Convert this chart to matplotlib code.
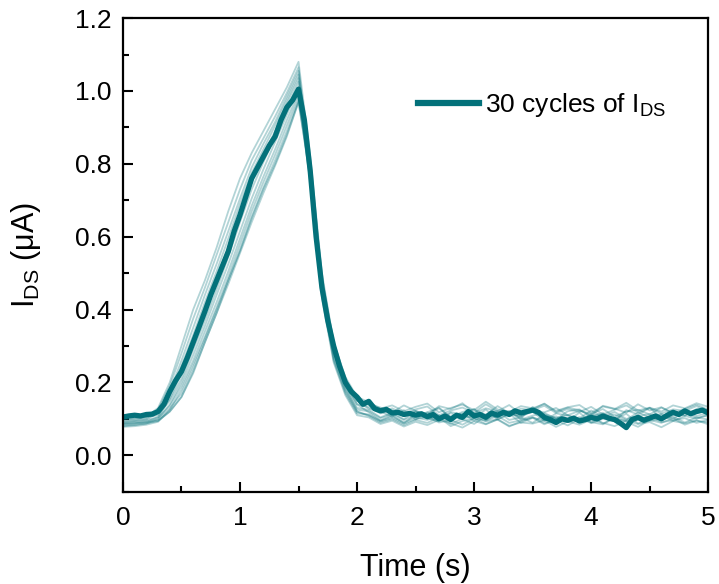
import matplotlib
matplotlib.use('Agg')
import matplotlib.pyplot as plt
import numpy as np

plt.rcParams['font.family'] = ['Liberation Sans', 'DejaVu Sans']
plt.rcParams['mathtext.fontset'] = 'custom'
plt.rcParams['mathtext.rm'] = 'Liberation Sans'
plt.rcParams['mathtext.it'] = 'Liberation Sans'

# thick curve (highlighted cycle), every 0.05 s
t_main = np.linspace(0, 5, 101)
main_rise = [0.105, 0.108, 0.110, 0.108, 0.112,
             0.113, 0.120, 0.140, 0.175, 0.205,
             0.230, 0.268, 0.310, 0.352, 0.395,
             0.440, 0.480, 0.520, 0.560, 0.615,
             0.660, 0.710, 0.760, 0.790, 0.820,
             0.850, 0.875, 0.920, 0.955, 0.975,
             1.005, 0.920, 0.780, 0.600, 0.460,
             0.370, 0.300, 0.245, 0.200, 0.175,
             0.160]
main_flat = [0.140, 0.148, 0.128, 0.122, 0.126,
             0.116, 0.118, 0.112, 0.115, 0.110,
             0.114, 0.106, 0.112, 0.100, 0.108,
             0.098, 0.110, 0.104, 0.120, 0.108,
             0.112, 0.104, 0.116, 0.110, 0.118,
             0.112, 0.122, 0.116, 0.120, 0.124,
             0.118, 0.104, 0.098, 0.090, 0.100,
             0.096, 0.102, 0.094, 0.098, 0.104,
             0.100, 0.108, 0.102, 0.098, 0.088,
             0.076, 0.098, 0.104, 0.096, 0.102,
             0.108, 0.100, 0.110, 0.118, 0.112,
             0.122, 0.114, 0.120, 0.124, 0.116]

# other cycles (faint), every 0.1 s: pulse part 0..2.0 s, then baseline 2.1..5.0 s
t_cyc = np.linspace(0, 5, 51)
cyc_pulse = [
    [0.100, 0.103, 0.106, 0.130, 0.200, 0.300, 0.400, 0.480, 0.570, 0.670, 0.760,
     0.830, 0.890, 0.950, 1.010, 1.080, 0.820, 0.500, 0.310, 0.210, 0.150],
    [0.095, 0.098, 0.102, 0.125, 0.190, 0.280, 0.375, 0.460, 0.550, 0.640, 0.730,
     0.810, 0.870, 0.930, 0.995, 1.065, 0.800, 0.480, 0.300, 0.200, 0.140],
    [0.090, 0.094, 0.098, 0.118, 0.175, 0.260, 0.350, 0.440, 0.525, 0.615, 0.705,
     0.790, 0.855, 0.915, 0.985, 1.055, 0.790, 0.470, 0.295, 0.205, 0.155],
    [0.108, 0.110, 0.112, 0.122, 0.170, 0.245, 0.330, 0.420, 0.505, 0.595, 0.690,
     0.775, 0.840, 0.905, 0.975, 1.045, 0.780, 0.450, 0.270, 0.180, 0.120],
    [0.085, 0.088, 0.092, 0.105, 0.155, 0.225, 0.305, 0.390, 0.480, 0.570, 0.665,
     0.755, 0.825, 0.890, 0.965, 1.035, 0.770, 0.460, 0.285, 0.190, 0.130],
    [0.098, 0.100, 0.104, 0.110, 0.150, 0.210, 0.290, 0.370, 0.455, 0.545, 0.640,
     0.730, 0.805, 0.875, 0.950, 1.025, 0.810, 0.490, 0.310, 0.215, 0.160],
    [0.080, 0.083, 0.087, 0.100, 0.140, 0.200, 0.275, 0.355, 0.440, 0.525, 0.615,
     0.705, 0.785, 0.860, 0.935, 1.010, 0.760, 0.440, 0.260, 0.170, 0.115],
    [0.092, 0.094, 0.097, 0.104, 0.135, 0.190, 0.260, 0.340, 0.420, 0.505, 0.595,
     0.685, 0.765, 0.840, 0.920, 0.995, 0.790, 0.470, 0.290, 0.195, 0.140],
    [0.078, 0.080, 0.084, 0.092, 0.125, 0.180, 0.250, 0.325, 0.405, 0.490, 0.580,
     0.670, 0.750, 0.825, 0.905, 0.985, 0.750, 0.430, 0.255, 0.165, 0.110],
    [0.088, 0.090, 0.093, 0.098, 0.128, 0.170, 0.240, 0.320, 0.400, 0.480, 0.565,
     0.655, 0.735, 0.810, 0.890, 0.975, 0.800, 0.480, 0.300, 0.205, 0.150],
    [0.082, 0.084, 0.088, 0.094, 0.120, 0.160, 0.225, 0.310, 0.390, 0.470, 0.555,
     0.640, 0.720, 0.795, 0.875, 0.970, 0.760, 0.440, 0.265, 0.175, 0.120],
    [0.086, 0.088, 0.090, 0.095, 0.120, 0.160, 0.230, 0.310, 0.390, 0.480, 0.560,
     0.650, 0.730, 0.800, 0.880, 0.970, 0.770, 0.450, 0.280, 0.185, 0.125],
]
cyc_base = [
    [0.128, 0.120, 0.106, 0.124, 0.098, 0.118, 0.131, 0.104, 0.112, 0.127,
     0.096, 0.115, 0.122, 0.101, 0.133, 0.110, 0.099, 0.121, 0.126, 0.105,
     0.117, 0.094, 0.124, 0.112, 0.130, 0.103, 0.118, 0.109, 0.127, 0.114],
    [0.118, 0.096, 0.110, 0.088, 0.112, 0.101, 0.093, 0.116, 0.099, 0.086,
     0.108, 0.121, 0.097, 0.104, 0.089, 0.113, 0.102, 0.095, 0.117, 0.090,
     0.106, 0.099, 0.114, 0.087, 0.103, 0.111, 0.094, 0.108, 0.100, 0.112],
    [0.140, 0.131, 0.118, 0.137, 0.122, 0.110, 0.135, 0.127, 0.143, 0.116,
     0.129, 0.121, 0.138, 0.113, 0.126, 0.142, 0.119, 0.131, 0.124, 0.109,
     0.136, 0.128, 0.117, 0.140, 0.123, 0.132, 0.114, 0.127, 0.139, 0.125],
    [0.108, 0.090, 0.099, 0.083, 0.097, 0.089, 0.104, 0.080, 0.094, 0.101,
     0.086, 0.098, 0.079, 0.093, 0.105, 0.088, 0.096, 0.082, 0.100, 0.091,
     0.085, 0.103, 0.092, 0.078, 0.097, 0.089, 0.102, 0.084, 0.095, 0.090],
    [0.125, 0.104, 0.117, 0.099, 0.121, 0.108, 0.096, 0.119, 0.111, 0.102,
     0.126, 0.098, 0.113, 0.107, 0.120, 0.094, 0.115, 0.109, 0.101, 0.123,
     0.106, 0.112, 0.097, 0.118, 0.104, 0.114, 0.100, 0.121, 0.108, 0.116],
    [0.146, 0.128, 0.137, 0.121, 0.133, 0.142, 0.118, 0.130, 0.139, 0.124,
     0.147, 0.126, 0.119, 0.135, 0.129, 0.141, 0.122, 0.132, 0.138, 0.117,
     0.134, 0.127, 0.144, 0.123, 0.131, 0.120, 0.137, 0.129, 0.143, 0.133],
    [0.112, 0.095, 0.106, 0.091, 0.104, 0.097, 0.110, 0.086, 0.101, 0.108,
     0.093, 0.099, 0.114, 0.089, 0.103, 0.096, 0.107, 0.092, 0.098, 0.111,
     0.087, 0.102, 0.095, 0.109, 0.094, 0.100, 0.106, 0.090, 0.104, 0.098],
    [0.132, 0.115, 0.124, 0.108, 0.121, 0.113, 0.129, 0.104, 0.119, 0.126,
     0.111, 0.135, 0.116, 0.107, 0.123, 0.118, 0.130, 0.110, 0.122, 0.114,
     0.127, 0.106, 0.120, 0.125, 0.112, 0.131, 0.117, 0.109, 0.124, 0.119],
    [0.104, 0.086, 0.095, 0.079, 0.092, 0.083, 0.097, 0.088, 0.076, 0.094,
     0.085, 0.099, 0.081, 0.090, 0.087, 0.096, 0.078, 0.093, 0.084, 0.098,
     0.089, 0.080, 0.095, 0.086, 0.091, 0.077, 0.094, 0.088, 0.096, 0.085],
    [0.138, 0.119, 0.129, 0.113, 0.126, 0.134, 0.110, 0.123, 0.131, 0.117,
     0.140, 0.121, 0.114, 0.128, 0.124, 0.136, 0.116, 0.127, 0.119, 0.133,
     0.112, 0.125, 0.137, 0.118, 0.130, 0.115, 0.126, 0.122, 0.135, 0.120],
    [0.110, 0.093, 0.102, 0.087, 0.099, 0.106, 0.090, 0.097, 0.084, 0.101,
     0.095, 0.108, 0.089, 0.096, 0.103, 0.085, 0.099, 0.092, 0.105, 0.088,
     0.100, 0.094, 0.083, 0.098, 0.107, 0.091, 0.096, 0.102, 0.089, 0.097],
    [0.121, 0.102, 0.113, 0.097, 0.110, 0.118, 0.099, 0.107, 0.115, 0.094,
     0.112, 0.104, 0.120, 0.098, 0.109, 0.116, 0.101, 0.111, 0.095, 0.114,
     0.106, 0.119, 0.100, 0.108, 0.113, 0.096, 0.110, 0.117, 0.103, 0.109],
]

teal = '#03717a'

fig = plt.figure(figsize=(7.19, 5.84), dpi=100)
ax = fig.add_axes([0.171, 0.158, 0.814, 0.811])

for p, b in zip(cyc_pulse, cyc_base):
    ax.plot(t_cyc, p + b, color=teal, lw=1.3, alpha=0.3)
ax.plot(t_main, main_rise + main_flat, color=teal, lw=3.8, label=r'30 cycles of I$_{\mathrm{DS}}$')

ax.set_xlim(0, 5)
ax.set_ylim(-0.1, 1.2)
ax.set_xticks([0, 1, 2, 3, 4, 5])
ax.set_yticks([0.0, 0.2, 0.4, 0.6, 0.8, 1.0, 1.2])
ax.set_yticklabels(['0.0', '0.2', '0.4', '0.6', '0.8', '1.0', '1.2'])
ax.set_xticks(np.arange(0.5, 5, 1), minor=True)
ax.set_yticks(np.arange(-0.1, 1.2, 0.2), minor=True)
ax.tick_params(which='both', direction='in', width=1.5, labelsize=19, top=False, right=False)
ax.tick_params(axis='x', pad=10)
ax.tick_params(axis='y', pad=8)
ax.tick_params(which='major', length=7)
ax.tick_params(which='minor', length=4)
for s in ax.spines.values():
    s.set_linewidth(1.6)

ax.set_xlabel('Time (s)', fontsize=22, labelpad=17)
ax.set_ylabel(r'I$_{\mathrm{DS}}$ (μA)', fontsize=22, labelpad=23)

leg = ax.legend(loc='center left', bbox_to_anchor=(0.504, 0.816), frameon=False,
                fontsize=19, handlelength=2.3, handletextpad=0.25, borderpad=0,
                borderaxespad=0)
for line in leg.get_lines():
    line.set_linewidth(4.5)

plt.savefig('out.png')
